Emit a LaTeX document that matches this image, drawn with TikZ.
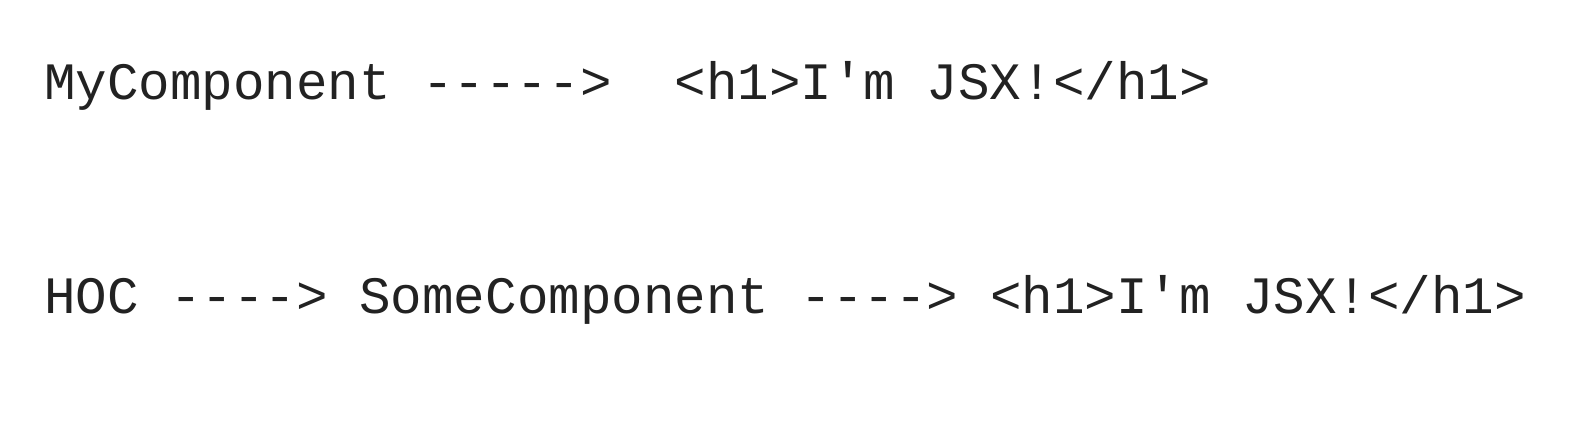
\documentclass[tikz,border=0pt]{standalone}
\usepackage{fontspec}
\newfontfamily\codefont{Liberation Mono}
\usepackage{xcolor}
\usepackage{tikz}
\usetikzlibrary{positioning}

\definecolor{codegray}{HTML}{222222}

\begin{document}
\begin{tikzpicture}[
    code/.style={inner sep=0pt, outer sep=0pt, text=codegray, font=\codefont\fontsize{14.95}{18}\selectfont},
    node distance=0.3157cm
]
\useasboundingbox (0,0) rectangle (15.9,4.46);

% first line
\node[code, anchor=base west] (mycomp) at (0.44,3.47) {MyComponent};
\node[code, base right=of mycomp] (arrowa) {----->};
\node[code, base right=0.631cm of arrowa] (jsxa) {<h1>I'm JSX!</h1>};

% second line
\node[code, anchor=base west] (hoc) at (0.44,1.33) {HOC};
\node[code, base right=of hoc] (arrowb) {---->};
\node[code, base right=of arrowb] (somecomp) {SomeComponent};
\node[code, base right=of somecomp] (arrowc) {---->};
\node[code, base right=of arrowc] (jsxb) {<h1>I'm JSX!</h1>};
\end{tikzpicture}
\end{document}
